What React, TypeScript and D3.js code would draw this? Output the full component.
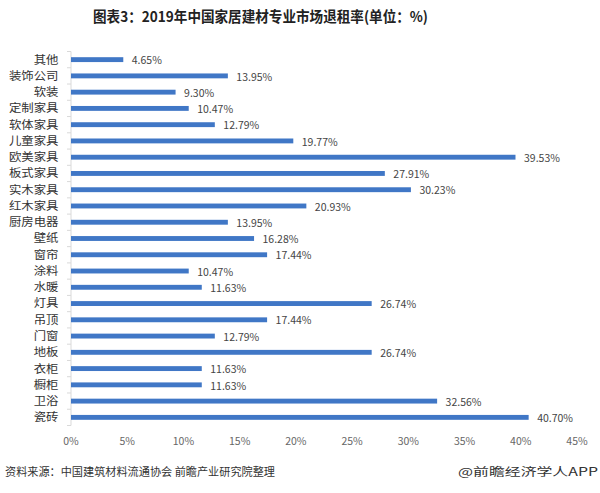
import React from "react";
import * as d3 from "d3";

const categories = ["其他","装饰公司","软装","定制家具","软体家具","儿童家具","欧美家具","板式家具","实木家具","红木家具","厨房电器","壁纸","窗帘","涂料","水暖","灯具","吊顶","门窗","地板","衣柜","橱柜","卫浴","瓷砖"];
const values = [4.65,13.95,9.30,10.47,12.79,19.77,39.53,27.91,30.23,20.93,13.95,16.28,17.44,10.47,11.63,26.74,17.44,12.79,26.74,11.63,11.63,32.56,40.70];
const xTicks = [0,5,10,15,20,25,30,35,40,45];
const title = "图表3：2019年中国家居建材专业市场退租率(单位：%)";
const source = "资料来源：中国建筑材料流通协会 前瞻产业研究院整理";
const brand = "@前瞻经济学人APP";

export default function App() {
  const W = 600, H = 493;
  const x = d3.scaleLinear().domain([0, 45]).range([71, 577]);
  const y = d3.scaleBand().domain(categories).range([51.5, 425.5]).paddingInner(0.7).paddingOuter(0.35);
  const font = "'Microsoft YaHei','Noto Sans CJK SC',sans-serif";
  const boundaries = d3.range(categories.length + 1).map(i => 51.5 + i * (374 / categories.length));
  return (
    <svg width={W} height={H} style={{ position: "absolute", left: 0, top: 0, background: "#fff" }} fontFamily={font}>
      <rect width={W} height={H} fill="#fff" />
      <text x={93} y={22} fontSize={14.5} fontWeight="bold" fill="#222" textLength={335} lengthAdjust="spacingAndGlyphs">{title}</text>
      <line x1={71} x2={71} y1={51.5} y2={425.5} stroke="#d9d9d9" />
      {boundaries.map((b, i) => (
        <line key={i} x1={67} x2={71} y1={b} y2={b} stroke="#d9d9d9" />
      ))}
      {categories.map((c, i) => (
        <g key={c + i}>
          <rect x={x(0)} y={y(c)!} width={x(values[i]) - x(0)} height={y.bandwidth()} fill="#4077C6" />
          <text x={58.5} y={y(c)! + y.bandwidth() / 2} dy="0.35em" textAnchor="end" fontSize={11.2} fill="#333" textLength={c.length * 12.4} lengthAdjust="spacingAndGlyphs">{c}</text>
          <text x={x(values[i]) + 8.5} y={y(c)! + y.bandwidth() / 2 + 1} dy="0.35em" fontSize={10.5} fill="#444">{values[i].toFixed(2) + "%"}</text>
        </g>
      ))}
      {xTicks.map(t => (
        <text key={t} x={x(t)} y={445} textAnchor="middle" fontSize={10.5} fill="#666">{t + "%"}</text>
      ))}
      <text x={5} y={476} fontSize={11.5} fill="#333" textLength={270} lengthAdjust="spacingAndGlyphs">{source}</text>
      <text x={598} y={476} textAnchor="end" fontSize={11.5} fill="#333" textLength={140} lengthAdjust="spacingAndGlyphs">{brand}</text>
    </svg>
  );
}
